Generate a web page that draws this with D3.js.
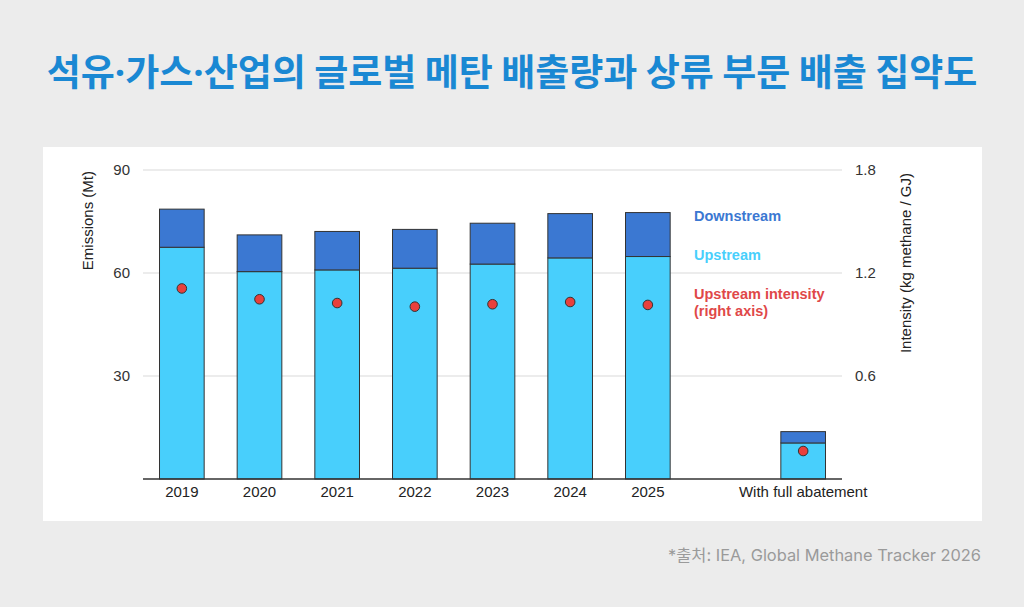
<!DOCTYPE html>
<html>
<head>
<meta charset="utf-8">
<script src="https://cdn.jsdelivr.net/npm/d3@7/dist/d3.min.js"></script>
<style>
  body { margin: 0; background: #ececec; }
  svg { display: block; }
</style>
</head>
<body>
<svg width="1024" height="607"></svg>
<script>
// data
var categories = ['2019', '2020', '2021', '2022', '2023', '2024', '2025', '', 'With full abatement'];
var upstream   = [67.5, 60.4, 60.9, 61.4, 62.6, 64.4, 64.8, null, 10.5];
var downstream = [11.1, 10.7, 11.2, 11.3, 11.9, 12.9, 12.8, null, 3.3];
var intensity  = [1.11, 1.047, 1.025, 1.004, 1.018, 1.031, 1.014, null, 0.163];
var leftTicks  = [30, 60, 90];
var rightTicks = [0.6, 1.2, 1.8];
var titleParts = ['석유', '·', '가스', '·', '산업의 글로벌 메탄 배출량과 상류 부문 배출 집약도'];

var svg = d3.select('svg');
var font = '"Liberation Sans", Arial, sans-serif';

// title (middots in a latin font so they stay narrow)
var title = svg.append('text')
  .attr('x', 512).attr('y', 86)
  .attr('text-anchor', 'middle')
  .attr('font-family', '"Noto Sans CJK KR", sans-serif')
  .attr('font-weight', 'bold')
  .attr('font-size', 37)
  .attr('fill', '#1a88d3');
titleParts.forEach(function (s) {
  var t = title.append('tspan').text(s);
  if (s == '·') t.attr('font-family', '"Noto Sans", sans-serif');
});

// card
svg.append('rect').attr('x', 43).attr('y', 147).attr('width', 939).attr('height', 374).attr('fill', '#fff');

var pLeft = 143, pRight = 842, pTop = 170, pBottom = 479;

var x = d3.scaleBand().domain(categories.map(function (d, i) { return i; }))
  .range([pLeft, pRight]).paddingInner(0.425).paddingOuter(0.2125);
var y = d3.scaleLinear().domain([0, 90]).range([pBottom, pTop]);
var y2 = d3.scaleLinear().domain([0, 1.8]).range([pBottom, pTop]);

// grid
svg.append('g').selectAll('line').data(leftTicks).enter().append('line')
  .attr('x1', pLeft).attr('x2', pRight)
  .attr('y1', function (d) { return y(d); }).attr('y2', function (d) { return y(d); })
  .attr('stroke', '#e6e6e6').attr('stroke-width', 1.5);

// left axis
var ga = svg.append('g').attr('transform', 'translate(' + pLeft + ',0)')
  .call(d3.axisLeft(y).tickValues(leftTicks).tickSize(0).tickPadding(13));
ga.select('.domain').remove();
ga.selectAll('text').attr('font-family', font).attr('font-size', 15).attr('fill', '#333');

// right axis
var gb = svg.append('g').attr('transform', 'translate(' + pRight + ',0)')
  .call(d3.axisRight(y2).tickValues(rightTicks).tickSize(0).tickPadding(13).tickFormat(d3.format('.1f')));
gb.select('.domain').remove();
gb.selectAll('text').attr('font-family', font).attr('font-size', 15).attr('fill', '#333');

// axis titles
svg.append('text').attr('transform', 'translate(93,171) rotate(-90)')
  .attr('text-anchor', 'end').attr('font-family', font).attr('font-size', 15).attr('fill', '#222')
  .text('Emissions (Mt)');
svg.append('text').attr('transform', 'translate(911,173) rotate(-90)')
  .attr('text-anchor', 'end').attr('font-family', font).attr('font-size', 15).attr('fill', '#222')
  .text('Intensity (kg methane / GJ)');

// bars
var idx = d3.range(categories.length).filter(function (i) { return upstream[i] != null; });
svg.append('g').selectAll('rect').data(idx).enter().append('rect')
  .attr('x', function (i) { return x(i); })
  .attr('width', x.bandwidth())
  .attr('y', function (i) { return y(upstream[i]); })
  .attr('height', function (i) { return y(0) - y(upstream[i]); })
  .attr('fill', '#48cffc').attr('stroke', '#333').attr('stroke-width', 1);
svg.append('g').selectAll('rect').data(idx).enter().append('rect')
  .attr('x', function (i) { return x(i); })
  .attr('width', x.bandwidth())
  .attr('y', function (i) { return y(upstream[i] + downstream[i]); })
  .attr('height', function (i) { return y(upstream[i]) - y(upstream[i] + downstream[i]); })
  .attr('fill', '#3b78d2').attr('stroke', '#333').attr('stroke-width', 1);

// baseline
svg.append('line').attr('x1', pLeft).attr('x2', pRight).attr('y1', pBottom).attr('y2', pBottom)
  .attr('stroke', '#333').attr('stroke-width', 1.5);

// x labels
var gx = svg.append('g').attr('transform', 'translate(0,' + pBottom + ')')
  .call(d3.axisBottom(x).tickSize(0).tickPadding(7).tickFormat(function (i) { return categories[i]; }));
gx.select('.domain').remove();
gx.selectAll('text').attr('font-family', font).attr('font-size', 15).attr('fill', '#222');

// intensity dots
svg.append('g').selectAll('circle').data(idx).enter().append('circle')
  .attr('cx', function (i) { return x(i) + x.bandwidth() / 2; })
  .attr('cy', function (i) { return y2(intensity[i]); })
  .attr('r', 4.8)
  .attr('fill', '#e8403c').attr('stroke', '#333').attr('stroke-width', 1);

// legend
var legend = [
  { t: ['Downstream'], c: '#3b78d2', y: 221 },
  { t: ['Upstream'], c: '#48cffc', y: 260 },
  { t: ['Upstream intensity', '(right axis)'], c: '#e04848', y: 299 }
];
legend.forEach(function (l) {
  var tx = svg.append('text').attr('x', 694).attr('y', l.y)
    .attr('font-family', font).attr('font-size', 14.5).attr('font-weight', 'bold').attr('fill', l.c);
  l.t.forEach(function (s, k) {
    tx.append('tspan').attr('x', 694).attr('dy', k ? 17 : 0).text(s);
  });
});

// source
svg.append('text').attr('x', 981).attr('y', 561)
  .attr('text-anchor', 'end')
  .attr('font-family', 'Inter, "Noto Sans CJK KR", sans-serif')
  .attr('font-size', 16.4).attr('fill', '#9a9a9a')
  .text('*출처: IEA, Global Methane Tracker 2026');
</script>
</body>
</html>
